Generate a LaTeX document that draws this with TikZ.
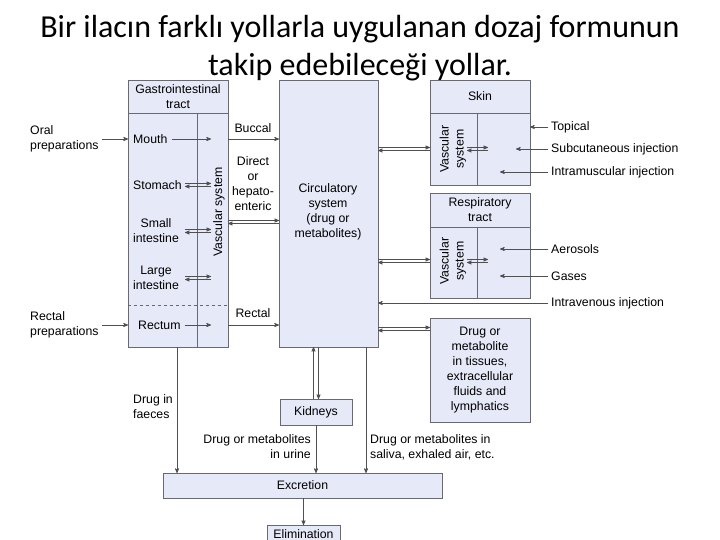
\documentclass[tikz,border=0pt]{standalone}
\usepackage{fontspec}
\setmainfont{Liberation Sans}
\newfontfamily\titlefont{Carlito}
\usetikzlibrary{arrows,positioning}

\definecolor{boxfill}{RGB}{230,233,247}
\definecolor{boxline}{RGB}{105,105,115}
\definecolor{arrline}{RGB}{80,80,80}

\begin{document}
\begin{tikzpicture}[x=1pt,y=-1pt,>=stealth',
    box/.style={draw=boxline,fill=boxfill,line width=0.8pt,outer sep=0pt,anchor=north west,
                font=\fontsize{12.3}{15}\selectfont,align=center},
    lbl/.style={font=\fontsize{12.3}{15}\selectfont,inner sep=0pt,align=center},
    arr/.style={->,draw=arrline,line width=0.7pt},
    sep/.style={draw=boxline,line width=0.8pt}]

  \clip (0,0) rectangle (720,540);
  \useasboundingbox (0,0) rectangle (720,540);

  % title
  \node[font=\titlefont\fontsize{32}{38}\selectfont,align=center] (title) at (360,48)
    {Bir ilacın farklı yollarla uygulanan dozaj formunun\\takip edebileceği yollar.};

  % boxes
  \node[box,minimum width=100,minimum height=267] (gi) at (128,80) {};
  \node[box,minimum width=99,minimum height=267] (circ) at (279,80) {};
  \node[box,minimum width=100,minimum height=105] (skin) at (430,80) {};
  \node[box,minimum width=100,minimum height=105] (resp) at (430,193) {};
  \node[box,minimum width=100,minimum height=104] (tissue) at (430,318)
    {Drug or\\metabolite\\in tissues,\\extracellular\\fluids and\\lymphatics};
  \node[box,minimum width=72,minimum height=26] (kidney) at (280,399) {Kidneys};
  \node[box,minimum width=279,minimum height=25] (excr) at (163,473) {Excretion};
  \node[box,minimum width=73,minimum height=30] (elim) at (267,525) {};

  % inner lines
  \draw[sep] (gi.west |- 0,113) -- (gi.east |- 0,113);
  \draw[sep] (197,113) -- (gi.south -| 197,0);
  \draw[sep,dashed] (gi.west |- 0,305) -- (gi.east |- 0,305);
  \draw[sep] (skin.west |- 0,113) -- (skin.east |- 0,113);
  \draw[sep] (477,113) -- (skin.south -| 477,0);
  \draw[sep] (resp.west |- 0,227) -- (resp.east |- 0,227);
  \draw[sep] (477,227) -- (resp.south -| 477,0);

  % texts in boxes
  \node[lbl] (gihead) at (178,97) {Gastrointestinal\\tract};
  \node[lbl,rotate=90] (givas) at (219,212) {Vascular system};
  \node[lbl] (circtext) at (328,212) {Circulatory\\system\\(drug or\\metabolites)};
  \node[lbl] (skinhead) at (480,96) {Skin};
  \node[lbl,rotate=90] (skinvas) at (453,149) {Vascular\\system};
  \node[lbl] (resphead) at (480,210) {Respiratory\\tract};
  \node[lbl,rotate=90] (respvas) at (453,261) {Vascular\\system};
  \node[lbl] (elimtext) at (303.5,534) {Elimination};

  \coordinate (vasl) at (185,0);
  \coordinate (vasr) at (211,0);
  \coordinate (deep) at (500,0);
  \coordinate (under) at (516,0);
  \coordinate (skvl) at (467,0);
  \coordinate (skvr) at (488,0);

  % gastrointestinal tract
  \node[lbl,anchor=west] (mouth) at (133,139) {Mouth};
  \node[lbl,anchor=west] (stomach) at (133,185) {Stomach};
  \node[lbl] (small) at (156,231) {Small\\intestine};
  \node[lbl] (large) at (156,278) {Large\\intestine};
  \node[lbl,anchor=west] (rectum) at (138,325) {Rectum};
  \draw[arr] ([xshift=4]mouth.east) -- (mouth -| vasr);
  \draw[arr] ([xshift=4]rectum.east) -- (rectum -| vasr);
  \foreach \part in {stomach,small,large} {
    \draw[arr] ([yshift=1.5]\part -| vasl) -- ([yshift=1.5]\part -| vasr);
    \draw[arr] ([yshift=-1.5]\part -| vasr) -- ([yshift=-1.5]\part -| vasl);
  }

  % oral and rectal doses
  \node[lbl,anchor=west,align=left] (oral) at (30,139) {Oral\\preparations};
  \node[lbl,anchor=west,align=left] (rectprep) at (30,325) {Rectal\\preparations};
  \draw[arr] ([xshift=3]oral.east) -- (gi.west |- oral);
  \draw[arr] ([xshift=3]rectprep.east) -- (gi.west |- rectprep);

  % gut to circulation
  \node[lbl] (buccal) at (253,128) {Buccal};
  \node[lbl] (direct) at (253,184) {Direct\\or\\hepato-\\enteric};
  \node[lbl] (rectal) at (253,313) {Rectal};
  \draw[arr] (gi.east |- mouth) -- (circ.west |- mouth);
  \draw[arr] ([yshift=1.5]gi.east |- 0,222) -- ([yshift=1.5]circ.west |- 0,222);
  \draw[arr] ([yshift=-1.5]circ.west |- 0,222) -- ([yshift=-1.5]gi.east |- 0,222);
  \draw[arr] (gi.east |- rectum) -- (circ.west |- rectum);

  % circulation to the right boxes
  \foreach \tgt/\lev in {skin/skinvas,resp/respvas} {
    \draw[arr] ([yshift=1.5]circ.east |- \lev) -- ([yshift=1.5]\tgt.west |- \lev);
    \draw[arr] ([yshift=-1.5]\tgt.west |- \lev) -- ([yshift=-1.5]circ.east |- \lev);
    \draw[arr] ([yshift=1.5]\lev -| skvl) -- ([yshift=1.5]\lev -| skvr);
    \draw[arr] ([yshift=-1.5]\lev -| skvr) -- ([yshift=-1.5]\lev -| skvl);
  }
  \draw[arr] ([yshift=1.5]circ.east |- 0,329) -- ([yshift=1.5]tissue.west |- 0,329);
  \draw[arr] ([yshift=-1.5]tissue.west |- 0,329) -- ([yshift=-1.5]circ.east |- 0,329);

  % parenteral and other routes
  \node[lbl,anchor=west] (topical) at (551,127) {Topical};
  \node[lbl,anchor=west] (subcut) at (551,149) {Subcutaneous injection};
  \node[lbl,anchor=west] (intramus) at (551,172) {Intramuscular injection};
  \node[lbl,anchor=west] (aerosol) at (551,249) {Aerosols};
  \node[lbl,anchor=west] (gases) at (551,276) {Gases};
  \node[lbl,anchor=west] (iv) at (551,303) {Intravenous injection};
  \draw[arr] ([xshift=-3]topical.west) -- (skin.east |- topical);
  \draw[arr] ([xshift=-3]subcut.west) -- (subcut -| under);
  \draw[arr] ([xshift=-3]intramus.west) -- (intramus -| deep);
  \draw[arr] ([xshift=-3]aerosol.west) -- (aerosol -| deep);
  \draw[arr] ([xshift=-3]gases.west) -- (gases -| deep);
  \draw[arr] ([xshift=-3]iv.west) -- (circ.east |- iv);

  % kidneys and excretion
  \draw[arr] ([xshift=-2.5]kidney.north) -- ([xshift=-2.5]circ.south -| kidney.north);
  \draw[arr] ([xshift=2.5]circ.south -| kidney.north) -- ([xshift=2.5]kidney.north);
  \node[lbl,anchor=west,align=left] (faeces) at (133,407) {Drug in\\faeces};
  \node[lbl,anchor=east,align=right] (urine) at (311,447) {Drug or metabolites\\in urine};
  \node[lbl,anchor=west,align=left] (saliva) at (370,447) {Drug or metabolites in\\saliva, exhaled air, etc.};
  \draw[arr] (gi.south -| 177,0) -- (excr.north -| 177,0);
  \draw[arr] (kidney.south) -- (excr.north -| kidney.south);
  \draw[arr] (circ.south -| 366,0) -- (excr.north -| 366,0);
  \draw[arr] (excr.south -| elim.north) -- (elim.north);
\end{tikzpicture}
\end{document}
